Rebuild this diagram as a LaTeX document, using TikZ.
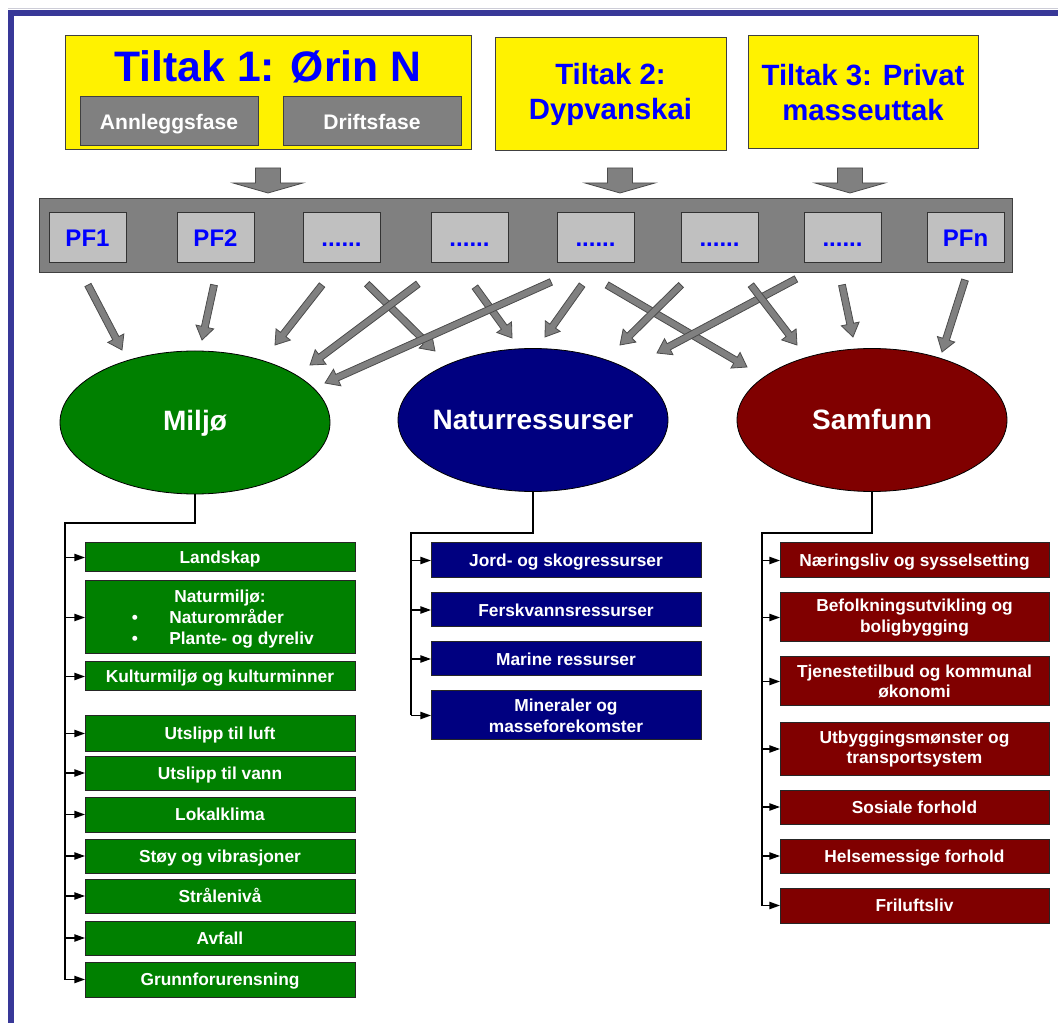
\documentclass[tikz,border=0pt]{standalone}
\usepackage{fontspec}
\setmainfont{Liberation Sans}
\usetikzlibrary{calc,shapes.geometric,arrows.meta}
\definecolor{frameblue}{RGB}{56,56,152}
\definecolor{midgray}{RGB}{128,128,128}
\definecolor{lgray}{RGB}{192,192,192}
\definecolor{textblue}{RGB}{0,0,255}
\definecolor{mgreen}{RGB}{0,128,0}
\definecolor{mnavy}{RGB}{0,0,128}
\definecolor{mmaroon}{RGB}{128,0,0}
\definecolor{topline}{RGB}{205,205,215}
\tikzset{
  wh/.style 2 args={minimum width=#1*0.75pt, minimum height=#2*0.75pt},
  ybox/.style={draw=black!75, line width=0.75pt, fill=yellow, inner sep=0pt, outer sep=0pt},
  gbox/.style={draw=black!75, line width=0.75pt, fill=midgray, inner sep=0pt, text=white, font=\bfseries\fontsize{15.8}{18}\selectfont, text height=11.3pt, text depth=0pt},
  barbox/.style={draw=black!75, line width=0.75pt, fill=midgray, inner sep=0pt},
  pfbox/.style={draw=black!80, line width=0.75pt, fill=lgray, inner sep=0pt, text=textblue, font=\bfseries\fontsize{18}{20}\selectfont, text height=12.9pt, text depth=0pt},
  ell/.style={ellipse, draw=black, line width=0.6pt, inner sep=0pt, outer sep=0pt, minimum width=202.5pt, minimum height=107.25pt},
  elltext/.style={inner sep=0pt, text=white, font=\bfseries\fontsize{21}{24}\selectfont, text height=15pt, text depth=0pt},
  lbox/.style={draw=black!85, line width=0.75pt, inner sep=0pt, outer sep=0pt, text=white, font=\bfseries\fontsize{13}{15.5}\selectfont, align=center},
  one/.style={text height=9.3pt, text depth=0pt},
  ltext/.style={inner sep=0pt, text=white, font=\bfseries\fontsize{13}{15.5}\selectfont, text height=9.3pt, text depth=0pt},
  conn/.style={line width=1pt, black},
  listarrow/.style={-{Triangle[length=8pt,width=5.5pt]}},
  fatarrow/.style={fill=midgray, draw=black!70, line width=0.6pt, line join=miter},
  blockarrow/.style={fill=midgray, draw=black!70, line width=0.6pt}
}
\newcommand\fatarr[2]{%
  \coordinate (fa-h) at ($(#2)!10pt!(#1)$);
  \filldraw[fatarrow] ($(#1)!2.6pt!90:(#2)$) -- ($(fa-h)!2.6pt!-90:(#1)$) -- ($(fa-h)!6.8pt!-90:(#1)$) -- (#2) -- ($(fa-h)!6.8pt!90:(#1)$) -- ($(fa-h)!2.6pt!90:(#1)$) -- ($(#1)!2.6pt!-90:(#2)$) -- cycle;
}
\begin{document}
\begin{tikzpicture}[x=0.75pt,y=-0.75pt]
\useasboundingbox (0,0) rectangle (1058,1023);
% frame
\draw[topline, line width=0.75pt] (8,8.5) -- (1058,8.5);
\fill[frameblue] (8,10) rectangle (1058,16);
\fill[frameblue] (8,10) rectangle (14,1023);

% Tiltak boxes
\node[ybox, wh={406}{114}] (t1) at (268,93) {};
\node[anchor=base, inner sep=0pt, text=textblue, font=\bfseries\fontsize{32}{36}\selectfont] (t1title) at (268,82) {Tiltak 1: Ørin N};
\node[gbox, wh={178}{49}] (anl) at (169,121.5) {Annleggsfase};
\node[gbox, wh={178}{49}] (drift) at (372,121.5) {Driftsfase};
\node[ybox, wh={231}{113}, align=center, text=textblue, font=\bfseries\fontsize{22}{26}\selectfont] (t2) at (610.5,94.5) {Tiltak 2:\\Dypvanskai};
\node[ybox, wh={230}{113}, align=center, text=textblue, font=\bfseries\fontsize{22}{26}\selectfont] (t3) at (863,92.5) {Tiltak 3: Privat\\masseuttak};

% block arrows down
\foreach \cx/\nm in {268/d1,620/d2,850/d3}{
  \coordinate (\nm) at (\cx,168);
  \filldraw[blockarrow] (\nm) ++(-12.5,0) -- ++(25,0) -- ++(0,15) -- ++(22.5,0) -- ++(-35,10) -- ++(-35,-10) -- ++(22.5,0) -- cycle;
}

% PF bar
\node[barbox, wh={973}{74}] (bar) at (525.5,236) {};
\node[pfbox, wh={77}{50}] (pf1) at (87.5,238) {PF1};
\node[pfbox, wh={77}{50}] (pf2) at (215.5,238) {PF2};
\node[pfbox, wh={77}{50}] (pf3) at (341.5,238) {......};
\node[pfbox, wh={77}{50}] (pf4) at (469.5,238) {......};
\node[pfbox, wh={77}{50}] (pf5) at (595.5,238) {......};
\node[pfbox, wh={77}{50}] (pf6) at (719.5,238) {......};
\node[pfbox, wh={77}{50}] (pf7) at (842.5,238) {......};
\node[pfbox, wh={77}{50}] (pfn) at (965.5,238) {PFn};

% ellipses
\node[ell, fill=mgreen] (mil) at (195,422.5) {};
\node[elltext] (miltext) at (195,421) {Miljø};
\node[ell, fill=mnavy] (nat) at (533,420) {};
\node[elltext] (nattext) at (533,420) {Naturressurser};
\node[ell, fill=mmaroon] (sam) at (872,420) {};
\node[elltext] (samtext) at (872,420) {Samfunn};

% fat arrows
\foreach \sx/\sy/\ex/\ey [count=\i] in {88/285/122/350, 214/285/202/340, 322/285/275/345, 367/284/435/351, 418/284/310/365, 475/287/512/338, 551/282/325/383, 582/285/545/337, 607/285/747/367, 681/285/620/345, 796/279/657/353, 751/285/797/345, 842/285/853/337, 965/280/942/352}{
  \coordinate (as\i) at (\sx,\sy);
  \coordinate (ae\i) at (\ex,\ey);
  \fatarr{as\i}{ae\i}
}

% Miljo list
\node[lbox, one, fill=mgreen, wh={270}{29}] (m1) at (220,557.5) {Landskap};
\node[lbox, fill=mgreen, wh={270}{73}] (m2) at (220,617.5) {};
\node[ltext] (m2a) at (220,596) {Naturmiljø:};
\node[ltext] (m2b) at (135,617) {•};
\node[ltext, anchor=west] (m2c) at (169,617) {Naturområder};
\node[ltext] (m2d) at (135,638) {•};
\node[ltext, anchor=west] (m2e) at (169,638) {Plante- og dyreliv};
\node[lbox, one, fill=mgreen, wh={270}{29}] (m3) at (220,676.5) {Kulturmiljø og kulturminner};
\node[lbox, one, fill=mgreen, wh={270}{35}] (m4) at (220,733.5) {Utslipp til luft};
\node[lbox, one, fill=mgreen, wh={270}{34}] (m5) at (220,773) {Utslipp til vann};
\node[lbox, one, fill=mgreen, wh={270}{35}] (m6) at (220,814.5) {Lokalklima};
\node[lbox, one, fill=mgreen, wh={270}{34}] (m7) at (220,856) {Støy og vibrasjoner};
\node[lbox, one, fill=mgreen, wh={270}{34}] (m8) at (220,896) {Strålenivå};
\node[lbox, one, fill=mgreen, wh={270}{34}] (m9) at (220,938) {Avfall};
\node[lbox, one, fill=mgreen, wh={270}{35}] (m10) at (220,979.5) {Grunnforurensning};
\coordinate (mj) at (65,523);
\draw[conn] (mil.south) |- (mj) -- (mj |- m10.west);
\foreach \n in {m1,m2,m3,m4,m5,m6,m7,m8,m9,m10}
  \draw[conn, listarrow] (mj |- \n.west) -- (\n.west);

% Naturressurser list
\node[lbox, one, fill=mnavy, wh={270}{35}] (n1) at (566,560.5) {Jord- og skogressurser};
\node[lbox, one, fill=mnavy, wh={270}{34}] (n2) at (566,610) {Ferskvannsressurser};
\node[lbox, one, fill=mnavy, wh={270}{34}] (n3) at (566,659) {Marine ressurser};
\node[lbox, fill=mnavy, wh={270}{49}] (n4) at (566,715.5) {Mineraler og\\masseforekomster};
\coordinate (nj) at (411,533);
\draw[conn] (nat.south) |- (nj) -- (nj |- n4.west);
\foreach \n in {n1,n2,n3,n4}
  \draw[conn, listarrow] (nj |- \n.west) -- (\n.west);

% Samfunn list
\node[lbox, one, fill=mmaroon, wh={269}{35}] (s1) at (914.5,560.5) {Næringsliv og sysselsetting};
\node[lbox, fill=mmaroon, wh={269}{49}] (s2) at (914.5,617.5) {Befolkningsutvikling og\\boligbygging};
\node[lbox, fill=mmaroon, wh={269}{49}] (s3) at (914.5,681.5) {Tjenestetilbud og kommunal\\økonomi};
\node[lbox, fill=mmaroon, wh={269}{52}] (s4) at (914.5,749) {Utbyggingsmønster og\\transportsystem};
\node[lbox, one, fill=mmaroon, wh={269}{34}] (s5) at (914.5,807) {Sosiale forhold};
\node[lbox, one, fill=mmaroon, wh={269}{34}] (s6) at (914.5,856) {Helsemessige forhold};
\node[lbox, one, fill=mmaroon, wh={269}{35}] (s7) at (914.5,905.5) {Friluftsliv};
\coordinate (sj) at (762,533);
\draw[conn] (sam.south) |- (sj) -- (sj |- s7.west);
\foreach \n in {s1,s2,s3,s4,s5,s6,s7}
  \draw[conn, listarrow] (sj |- \n.west) -- (\n.west);
\end{tikzpicture}
\end{document}
